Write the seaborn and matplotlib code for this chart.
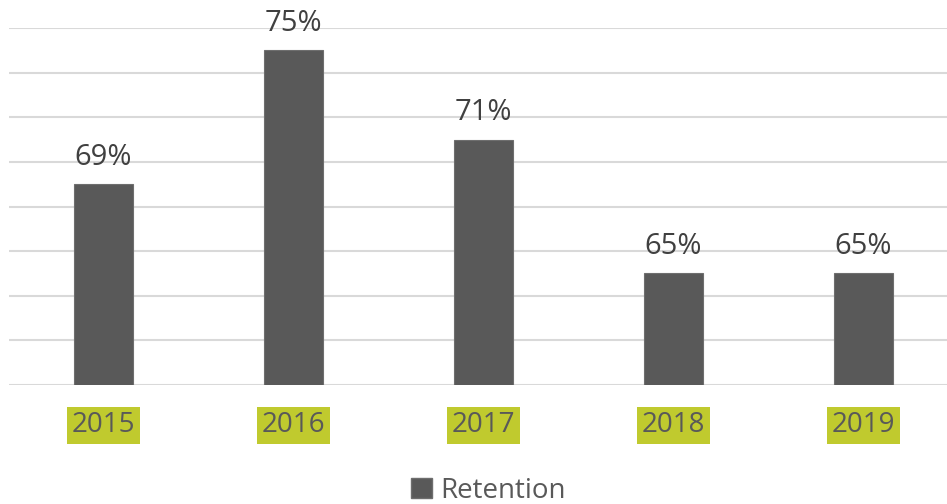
import matplotlib
matplotlib.use("Agg")
import matplotlib.pyplot as plt
import seaborn as sns
import pandas as pd
from matplotlib.patches import Patch

years = ["2015", "2016", "2017", "2018", "2019"]
retention = [69, 75, 71, 65, 65]
series_name = "Retention"

sns.set_theme(style="white")
plt.rcParams['font.family'] = ['Open Sans', 'DejaVu Sans']

df = pd.DataFrame({"Year": years, "Retention": retention})

fig = plt.figure(figsize=(9.47, 5.04), dpi=100)
W, H = 947, 504
ax = fig.add_axes([8.5 / W, (H - 385) / H, (947 - 8.5) / W, (385 - 28) / H])

sns.barplot(data=df, x="Year", y="Retention", color="#595959", width=0.31,
            saturation=1, edgecolor="#6e6e6e", linewidth=0.8, ax=ax, zorder=3)

ax.set_ylim(60, 76)
ax.set_yticks(range(60, 77, 2))
ax.set_xlim(-0.5, 4.5 - (958.5 - 947) / 190)
ax.grid(axis="y", color="#d9d9d9", linewidth=1.5, zorder=0)
ax.set_axisbelow(True)
for s in ax.spines.values():
    s.set_visible(False)
ax.tick_params(axis="y", left=False, labelleft=False)
ax.tick_params(axis="x", length=0, pad=19, labelsize=20, labelcolor="#595959")
ax.set_xlabel("")
ax.set_ylabel("")
for lab in ax.get_xticklabels():
    lab.set_bbox(dict(facecolor="#c0ca2e", edgecolor="none", pad=3.5))

ax.bar_label(ax.containers[0], labels=[f"{v}%" for v in retention],
             padding=9, fontsize=21, color="#404040")

fig.legend(handles=[Patch(facecolor="#595959", edgecolor="#6e6e6e", label=series_name)],
           loc="center", bbox_to_anchor=(488 / W, 1 - 491 / H), frameon=False,
           fontsize=20, labelcolor="#595959", handlelength=0.75, handleheight=0.75,
           handletextpad=0.3, borderpad=0)

fig.savefig("out.png", dpi=100)
